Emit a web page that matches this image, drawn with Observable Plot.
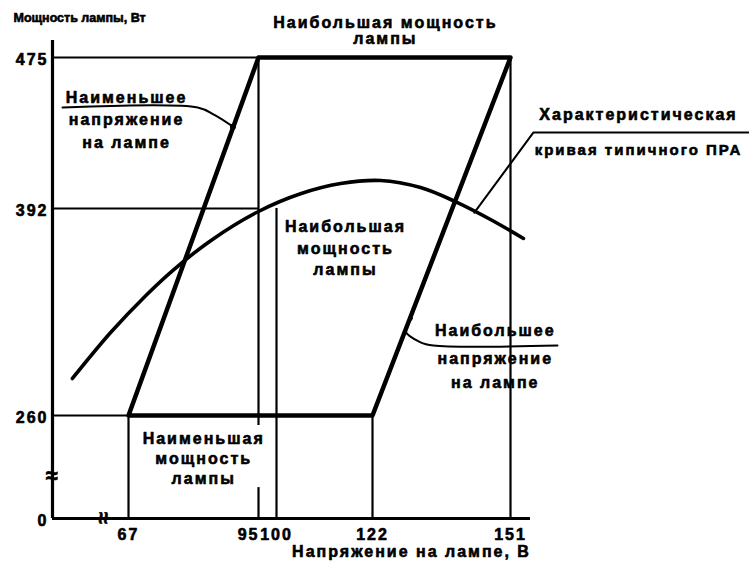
<!DOCTYPE html>
<html>
<head>
<meta charset="utf-8">
<script src="https://cdn.jsdelivr.net/npm/d3@7"></script>
<script src="https://cdn.jsdelivr.net/npm/@observablehq/plot@0.6"></script>
<style>
body { margin: 0; background: #fff; }
svg text { letter-spacing: 2px; }
</style>
</head>
<body>
<div id="chart"></div>
<script>
// Axis tick values and titles
const xTicks = [67, 95, 100, 122, 151];
const yTicks = [0, 260, 392, 475];
const yTitle = "Мощность лампы, Вт";
const xTitle = "Напряжение на лампе, В";

// Broken (piecewise) axes as in the drawing
const xDomain = [0, 55, 67, 95, 100, 122, 151, 155];
const yDomain = [0, 260, 392, 475, 485];

// Lamp operating trapezoid: corners (voltage, power)
const trapVoltage = [67, 95, 151, 122, 67];
const trapPower   = [260, 475, 475, 260, 260];

// Typical ballast characteristic curve
const curveVoltage = [55.4, 63.3, 70.7, 76.7, 84.7, 95, 105.5, 114.7, 123.7, 132.1, 139.4, 146.8, 153.6];
const curvePower   = [283.6, 312.9, 336.4, 352.9, 371.5, 390.1, 400.1, 405.7, 407.4, 403.5, 395.8, 385.0, 372.9];

// Reference lines
const hLines = [
  {p: 475, v1: 0, v2: 95},
  {p: 392, v1: 0, v2: 95},
  {p: 260, v1: 0, v2: 67}
];
const vLines = [
  {v: 67, p1: 0, p2: 260},
  {v: 95, p1: 0, p2: 78},
  {v: 95, p1: 235, p2: 475},
  {v: 100, p1: 0, p2: 392},
  {v: 122, p1: 0, p2: 260},
  {v: 151, p1: 0, p2: 475}
];

// Leader lines of the annotations
const leaderMinVolt = [{x: 30.6, y: 447.5}, {x: 81.9, y: 447.5}, {x: 85.5, y: 443.5}, {x: 89.5, y: 437}];
const leaderCurve = [{x: 198.6, y: 433.8}, {x: 155.6, y: 433.8}, {x: 143.4, y: 389.4}];
const leaderMaxVolt = [{x: 130.3, y: 322}, {x: 128.9, y: 314}, {x: 132.1, y: 306.6}, {x: 134.8, y: 304.6}, {x: 160.4, y: 304.6}];

const trap = trapVoltage.map((v, i) => ({v, p: trapPower[i]}));
const curve = curveVoltage.map((v, i) => ({v, p: curvePower[i]}));

const T = {fill: "black", stroke: "black", strokeWidth: 0.6, fontWeight: "bold", fontSize: 16};

const chart = Plot.plot({
  width: 749,
  height: 569,
  margin: 0,
  style: {fontFamily: "Liberation Sans, Arial, sans-serif", background: "white", color: "black"},
  x: {type: "linear", domain: xDomain, range: [52, 70, 128, 258, 276, 372, 510, 530], axis: null},
  y: {type: "linear", domain: yDomain, range: [518, 415, 208, 57, 40], axis: null},
  marks: [
    // grid / reference lines
    Plot.ruleY(hLines, {y: "p", x1: "v1", x2: "v2", stroke: "black", strokeWidth: 2.2}),
    Plot.ruleX(vLines, {x: "v", y1: "p1", y2: "p2", stroke: "black", strokeWidth: 2.2}),
    // axes
    Plot.ruleX([0], {y1: 0, y2: yDomain[yDomain.length - 1], stroke: "black", strokeWidth: 3.2}),
    Plot.ruleY([0], {x1: 0, x2: xDomain[xDomain.length - 1], stroke: "black", strokeWidth: 3.2}),
    // trapezoid
    Plot.line(trap, {x: "v", y: "p", stroke: "black", strokeWidth: 4.5, strokeLinejoin: "round"}),
    // ballast characteristic
    Plot.line(curve, {x: "v", y: "p", stroke: "black", strokeWidth: 3.6, curve: "catmull-rom"}),
    // leaders
    Plot.line(leaderMinVolt, {x: "x", y: "y", stroke: "black", strokeWidth: 2, curve: "catmull-rom"}),
    Plot.dot([leaderMinVolt[leaderMinVolt.length - 1]], {x: "x", y: "y", r: 3, fill: "black"}),
    Plot.line(leaderCurve, {x: "x", y: "y", stroke: "black", strokeWidth: 2}),
    Plot.line(leaderMaxVolt, {x: "x", y: "y", stroke: "black", strokeWidth: 2, curve: "catmull-rom"}),
    // axis break marks
    Plot.text([0], {x: 0, y: 108.5, text: () => "≈", ...T, fontSize: 22}),
    Plot.text([0], {x: 61.8, y: 0, text: () => "≈", ...T, fontSize: 22, rotate: 90}),
    // tick labels
    Plot.text(yTicks, {x: 0, y: d => d, text: d => String(d), ...T, textAnchor: "end", dx: -4, dy: 2}),
    Plot.text(xTicks.filter(d => d !== 95), {x: d => d, y: 0, text: d => String(d), ...T, dy: 16}),
    Plot.text([95], {x: d => d, y: 0, text: d => String(d), ...T, textAnchor: "end", dy: 16, dx: 1}),
    // axis titles
    Plot.text([yTitle], {x: 0, y: 498.5, text: d => d, ...T, fontSize: 12.5, textAnchor: "start", dx: -39}),
    Plot.text([xTitle], {x: 130.2, y: -83.3, text: d => d, ...T}),
    // annotations
    Plot.text(["Наибольшая мощность\nлампы"], {x: 124.7, y: 490.9, text: d => d, ...T, lineHeight: 1.0}),
    Plot.text(["Наименьшее\nнапряжение\nна лампе"], {x: 66.6, y: 441.7, text: d => d, ...T, lineHeight: 1.4}),
    Plot.text(["Характеристическая"], {x: 176.6, y: 443.7, text: d => d, ...T}),
    Plot.text(["кривая типичного ПРА"], {x: 176.6, y: 423.9, text: d => d, ...T, fontSize: 15}),
    Plot.text(["Наибольшая\nмощность\nлампы"], {x: 115.8, y: 367.5, text: d => d, ...T, lineHeight: 1.35}),
    Plot.text(["Наибольшее"], {x: 147.8, y: 314.2, text: d => d, ...T}),
    Plot.text(["напряжение\nна лампе"], {x: 147.8, y: 290.3, text: d => d, ...T, lineHeight: 1.55}),
    Plot.text(["Наименьшая\nмощность\nлампы"], {x: 83.2, y: 154, text: d => d, ...T, lineHeight: 1.25})
  ]
});
// the axis title is set tighter than the other texts
d3.select(chart).selectAll("text").filter(function () { return this.textContent === yTitle; })
  .style("letter-spacing", "0px");
document.getElementById("chart").appendChild(chart);
</script>
</body>
</html>
